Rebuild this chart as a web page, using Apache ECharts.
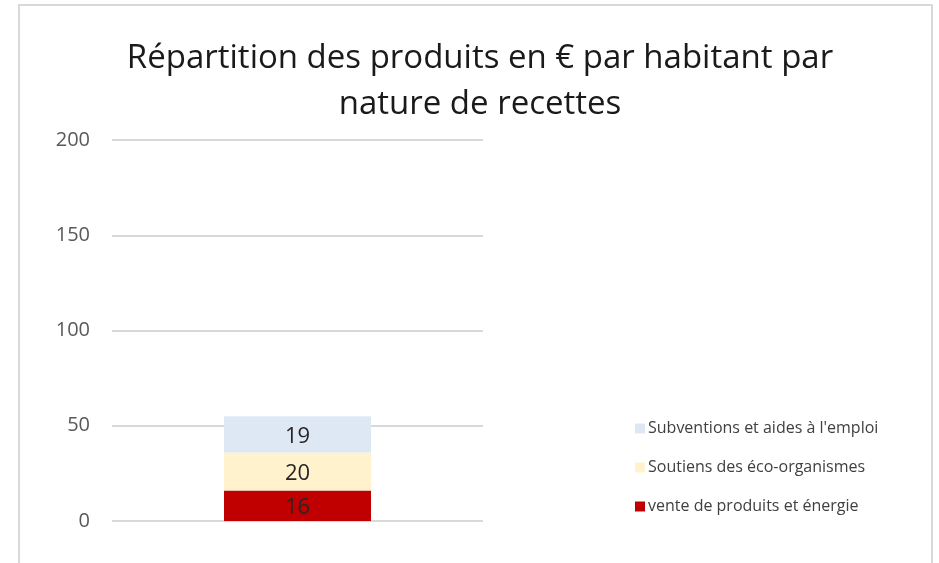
<!DOCTYPE html>
<html>
<head>
<meta charset="utf-8">
<script src="https://cdn.jsdelivr.net/npm/echarts@6/dist/echarts.min.js"></script>
<style>
  html, body { margin: 0; padding: 0; background: #ffffff; }
  #chart { width: 939px; height: 563px; }
</style>
</head>
<body>
<div id="chart"></div>
<script>
// Revenue breakdown per inhabitant (€), stacked by type of income
const categories = [''];
const seriesNames = [
  'vente de produits et énergie',
  'Soutiens des éco-organismes',
  'Subventions et aides à l\'emploi'
];
const venteValues = [16];
const soutiensValues = [20];
const subventionsValues = [19];
const seriesColors = ['#C00000', '#FFF2CC', '#DEE8F5'];
const yTicks = { min: 0, max: 200, interval: 50 };

const font = '"Open Sans", "Liberation Sans", sans-serif';
const valuesBySeries = [venteValues, soutiensValues, subventionsValues];

const chart = echarts.init(document.getElementById('chart'), null, { renderer: 'canvas' });

chart.setOption({
  backgroundColor: '#ffffff',
  animation: false,
  title: {
    text: 'Répartition des produits en € par habitant par\nnature de recettes',
    left: 475,
    textAlign: 'center',
    top: 31,
    textStyle: {
      fontFamily: font,
      fontWeight: 'normal',
      fontSize: 33,
      lineHeight: 46,
      color: '#1a1a1a'
    }
  },
  graphic: [{
    type: 'rect',
    shape: { x: 19, y: 5, width: 913, height: 600 },
    style: { fill: 'none', stroke: '#d9d9d9', lineWidth: 2 },
    silent: true
  }],
  legend: {
    orient: 'vertical',
    left: 630,
    top: 415,
    itemWidth: 10,
    itemHeight: 10,
    itemGap: 22,
    icon: 'rect',
    data: [seriesNames[2], seriesNames[1], seriesNames[0]],
    textStyle: { fontFamily: font, fontSize: 16, lineHeight: 17, color: '#404040', padding: [0, 0, 0, -2] }
  },
  grid: { left: 112, right: 456, top: 140, bottom: 42, containLabel: false },
  xAxis: {
    type: 'category',
    data: categories,
    axisLine: { show: false },
    axisTick: { show: false },
    axisLabel: { show: false }
  },
  yAxis: {
    type: 'value',
    min: yTicks.min,
    max: yTicks.max,
    interval: yTicks.interval,
    axisLine: { show: false },
    axisTick: { show: false },
    axisLabel: { fontFamily: font, fontSize: 20, color: '#595959', margin: 22 },
    splitLine: { lineStyle: { color: '#d9d9d9', width: 2 } }
  },
  series: seriesNames.map((name, i) => ({
    name: name,
    type: 'bar',
    stack: 'total',
    barWidth: 147,
    data: valuesBySeries[i],
    itemStyle: { color: seriesColors[i] },
    label: {
      show: true,
      position: 'inside',
      offset: [0, 2],
      fontFamily: font,
      fontSize: 22,
      color: '#262626'
    }
  }))
});
</script>
</body>
</html>
